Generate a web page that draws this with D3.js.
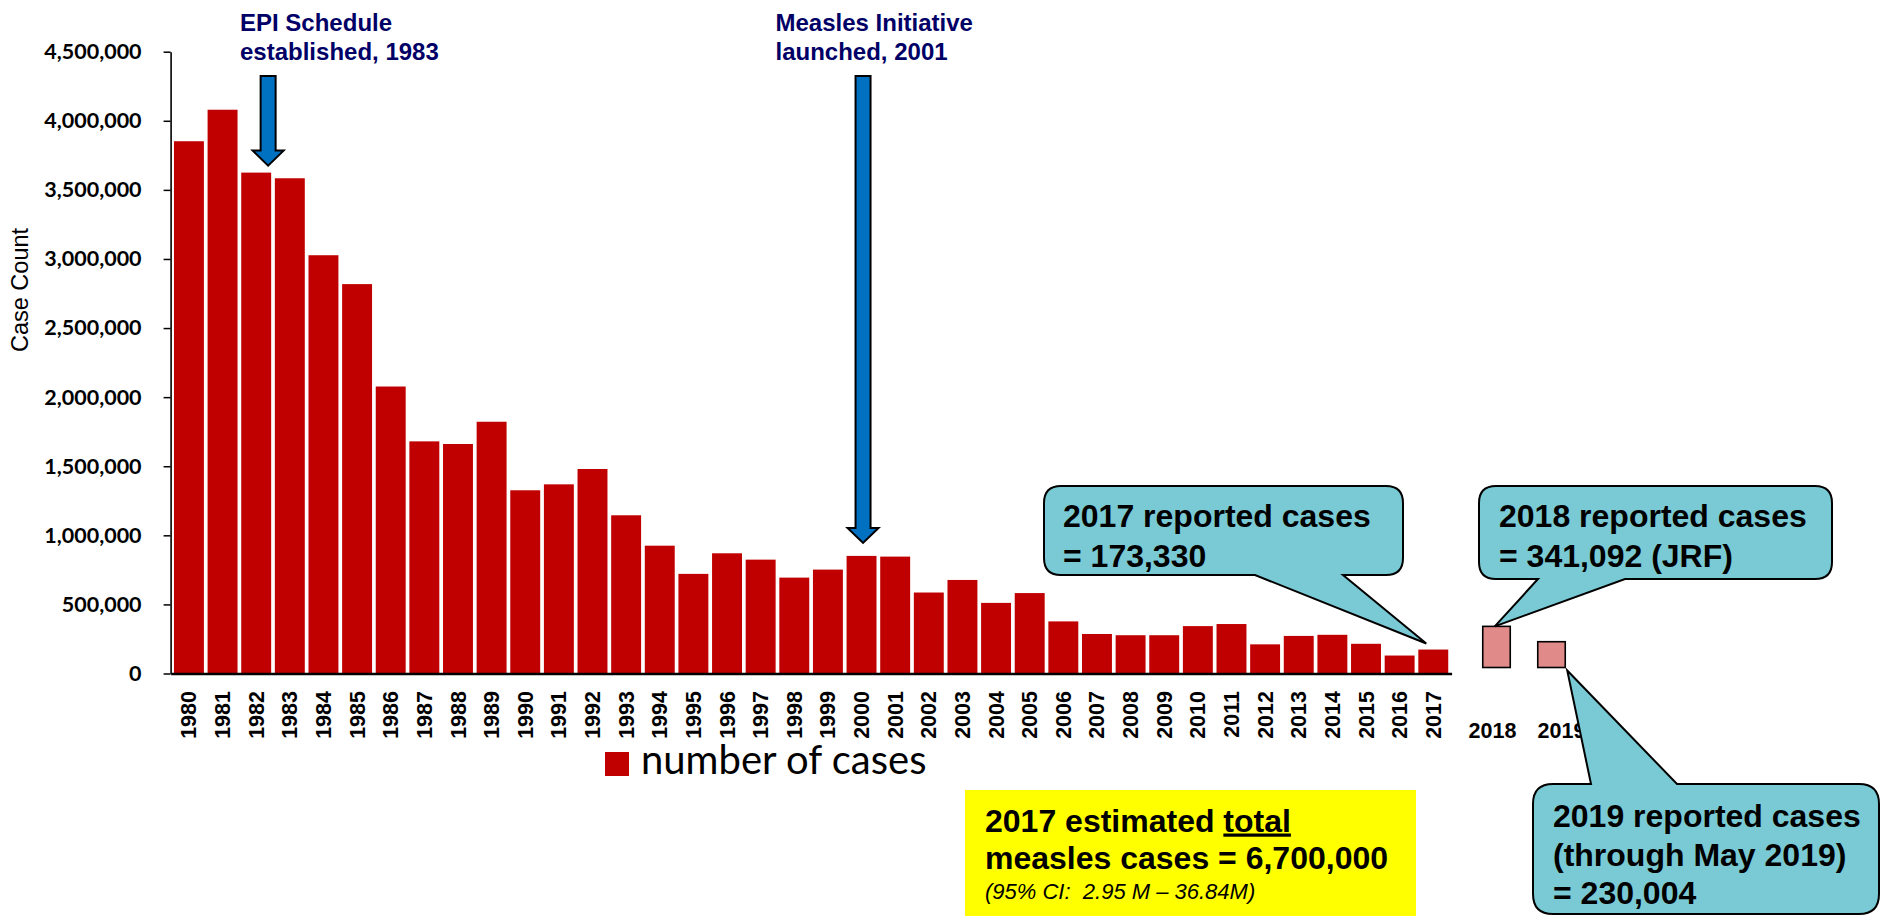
<!DOCTYPE html>
<html>
<head>
<meta charset="utf-8">
<script src="https://cdn.jsdelivr.net/npm/d3@7"></script>
<style>
  body { margin: 0; background: #fff; }
  .arial { font-family: "Liberation Sans", Arial, sans-serif; }
</style>
</head>
<body>
<div id="chart"></div>
<script>
// Data
var years = ["1980","1981","1982","1983","1984","1985","1986","1987","1988","1989",
             "1990","1991","1992","1993","1994","1995","1996","1997","1998","1999",
             "2000","2001","2002","2003","2004","2005","2006","2007","2008","2009",
             "2010","2011","2012","2013","2014","2015","2016","2017"];
var cases = [3852000, 4080000, 3625000, 3584000, 3027000, 2818000, 2077000, 1680000, 1661000, 1822000,
             1326000, 1369000, 1480000, 1145000, 925000, 721000, 870000, 824000, 694000, 752000,
             851000, 846000, 586000, 677000, 511000, 582000, 377000, 286000, 277000, 277000,
             343000, 358000, 211000, 272000, 280000, 215000, 130000, 173330];
var laterYears = ["2018", "2019"];
var laterCases = [341092, 230004];
var yTicks = [0, 500000, 1000000, 1500000, 2000000, 2500000, 3000000, 3500000, 4000000, 4500000];

var width = 1884, height = 916;

var svg = d3.select("#chart")
  .append("svg")
    .attr("width", width)
    .attr("height", height);

// Scales
var x = d3.scaleBand()
    .domain(years)
    .range([170.6, 1451.6])
    .paddingInner(0.11)
    .paddingOuter(0.1);

var x2 = d3.scaleBand()
    .domain(laterYears)
    .range([1469, 1579])
    .paddingInner(0.5)
    .paddingOuter(0.25);

var y = d3.scaleLinear()
    .domain([0, 4500000])
    .range([673.5, 51.7]);

// Bars
svg.append("g")
  .selectAll("rect")
  .data(cases)
  .join("rect")
    .attr("x", function(d, i) { return x(years[i]); })
    .attr("y", function(d) { return y(d); })
    .attr("width", x.bandwidth())
    .attr("height", function(d) { return y(0) - y(d); })
    .attr("fill", "#C00000");

// Y axis
var yAxis = svg.append("g")
    .attr("transform", "translate(170.6,0)")
    .call(d3.axisLeft(y).tickValues(yTicks).tickSize(7).tickSizeOuter(0).tickPadding(22)
      .tickFormat(d3.format(",")));
yAxis.select(".domain").attr("stroke", "#000").attr("stroke-width", 1.6);
yAxis.selectAll(".tick line").attr("stroke", "#000").attr("stroke-width", 1.5);
yAxis.selectAll(".tick text")
    .attr("fill", "#000")
    .style("font-family", "Lato, sans-serif")
    .style("font-weight", "bold")
    .style("font-size", "21.5px");

// X axis
var xAxis = svg.append("g")
    .attr("transform", "translate(0," + y(0) + ")")
    .call(d3.axisBottom(x).tickSize(0).tickSizeOuter(0));
xAxis.select(".domain").attr("stroke", "#000").attr("stroke-width", 2.4);
xAxis.selectAll(".tick text")
    .attr("class", "arial")
    .attr("fill", "#000")
    .style("font-weight", "bold")
    .style("font-size", "21.5px")
    .attr("transform", "rotate(-90)")
    .attr("text-anchor", "end")
    .attr("x", -17.5)
    .attr("y", 0)
    .attr("dy", "0.35em");

// Y axis title
svg.append("text")
    .attr("class", "arial")
    .attr("transform", "translate(28,290) rotate(-90)")
    .attr("text-anchor", "middle")
    .style("font-size", "23.5px")
    .text("Case Count");

// 2018 and 2019 boxes, set apart from the main series
svg.append("g")
  .selectAll("rect")
  .data(laterCases)
  .join("rect")
    .attr("x", function(d, i) { return x2(laterYears[i]); })
    .attr("y", function(d) { return y(d); })
    .attr("width", x2.bandwidth())
    .attr("height", function(d) { return y(0) - 6 - y(d); })
    .attr("fill", "#E08A8A")
    .attr("stroke", "#000")
    .attr("stroke-width", 1.6);

var laterLabelShift = [-4, 10];
svg.append("g")
  .selectAll("text")
  .data(laterYears)
  .join("text")
    .attr("class", "arial")
    .attr("x", function(d, i) { return x2(d) + x2.bandwidth() / 2 + laterLabelShift[i]; })
    .attr("y", 738)
    .attr("text-anchor", "middle")
    .style("font-weight", "bold")
    .style("font-size", "21.5px")
    .text(function(d) { return d; });

// Legend
svg.append("rect")
    .attr("x", 605).attr("y", 752)
    .attr("width", 24).attr("height", 24)
    .attr("fill", "#C00000");
svg.append("text")
    .attr("x", 641).attr("y", 774)
    .style("font-family", "Lato, sans-serif")
    .style("font-size", "40px")
    .text("number of cases");

// Blue arrows with notes
function downArrow(cx, top, tip) {
  var sw = 15, hw = 31, hl = 15;
  return "M" + (cx - sw / 2) + "," + top + "H" + (cx + sw / 2) + "V" + (tip - hl) +
         "H" + (cx + hw / 2) + "L" + cx + "," + tip + "L" + (cx - hw / 2) + "," + (tip - hl) +
         "H" + (cx - sw / 2) + "Z";
}

var epiX = x("1982") + x.step() * 0.8;
var misX = x("2000") + x.bandwidth() / 2 + 1.5;

svg.append("path")
    .attr("d", downArrow(epiX, 76, y(cases[2]) - 7))
    .attr("fill", "#0070C0").attr("stroke", "#000").attr("stroke-width", 2);
svg.append("path")
    .attr("d", downArrow(misX, 76, y(cases[20]) - 13))
    .attr("fill", "#0070C0").attr("stroke", "#000").attr("stroke-width", 2);

function note(lines, x0, y0) {
  var t = svg.append("text")
      .attr("class", "arial")
      .attr("fill", "#000066")
      .style("font-weight", "bold")
      .style("font-size", "24px");
  lines.forEach(function(s, i) {
    t.append("tspan").attr("x", x0).attr("y", y0 + i * 29).text(s);
  });
}
note(["EPI Schedule", "established, 1983"], 240, 31);
note(["Measles Initiative", "launched, 2001"], 775.5, 31);

// Speech bubble callouts
function bubble(x0, y0, x1, y1, r, side, p1, p2, tip) {
  var p = "M" + (x0 + r) + "," + y0;
  if (side === "top") p += "H" + p1 + "L" + tip[0] + "," + tip[1] + "L" + p2 + "," + y0;
  p += "H" + (x1 - r) + "Q" + x1 + "," + y0 + " " + x1 + "," + (y0 + r);
  p += "V" + (y1 - r) + "Q" + x1 + "," + y1 + " " + (x1 - r) + "," + y1;
  if (side === "bottom") p += "H" + p2 + "L" + tip[0] + "," + tip[1] + "L" + p1 + "," + y1;
  p += "H" + (x0 + r) + "Q" + x0 + "," + y1 + " " + x0 + "," + (y1 - r);
  p += "V" + (y0 + r) + "Q" + x0 + "," + y0 + " " + (x0 + r) + "," + y0 + "Z";
  return p;
}

function bubbleText(lines, x0, y0, step) {
  var t = svg.append("text")
      .attr("class", "arial")
      .attr("fill", "#000")
      .style("font-weight", "bold")
      .style("font-size", "32px");
  lines.forEach(function(s, i) {
    t.append("tspan").attr("x", x0).attr("y", y0 + i * step).text(s);
  });
}

var teal = "#79CAD4";

svg.append("path")
    .attr("d", bubble(1044, 486, 1403, 575, 17, "bottom", 1255, 1343,
      [x("2017") + x.bandwidth() / 2 - 7, y(cases[37]) - 6]))
    .attr("fill", teal).attr("stroke", "#000").attr("stroke-width", 2);
bubbleText(["2017 reported cases", "= 173,330"], 1063, 527, 40);

svg.append("path")
    .attr("d", bubble(1479, 486, 1832, 579, 17, "bottom", 1538, 1625,
      [x2("2018") + 12, y(laterCases[0])]))
    .attr("fill", teal).attr("stroke", "#000").attr("stroke-width", 2);
bubbleText(["2018 reported cases", "= 341,092 (JRF)"], 1499, 527, 40);

svg.append("path")
    .attr("d", bubble(1533, 784, 1879, 914, 20, "top", 1591, 1677,
      [x2("2019") + x2.bandwidth() + 2, y(0) - 3]))
    .attr("fill", teal).attr("stroke", "#000").attr("stroke-width", 2);
bubbleText(["2019 reported cases", "(through May 2019)", "= 230,004"], 1553, 827, 38.6);

// Yellow note box
svg.append("rect")
    .attr("x", 965).attr("y", 790)
    .attr("width", 451).attr("height", 126)
    .attr("fill", "#FFFF00");
var yt = svg.append("text")
    .attr("class", "arial")
    .style("font-weight", "bold")
    .style("font-size", "32px");
var l1 = yt.append("tspan").attr("x", 985).attr("y", 831.5);
l1.append("tspan").text("2017 estimated ");
l1.append("tspan").style("text-decoration", "underline").text("total");
yt.append("tspan").attr("x", 985).attr("y", 869).text("measles cases = 6,700,000");
svg.append("text")
    .attr("class", "arial")
    .attr("x", 985).attr("y", 899)
    .style("font-style", "italic")
    .style("font-size", "22px")
    .style("white-space", "pre")
    .text("(95% CI:  2.95 M \u2013 36.84M)");
</script>
</body>
</html>
